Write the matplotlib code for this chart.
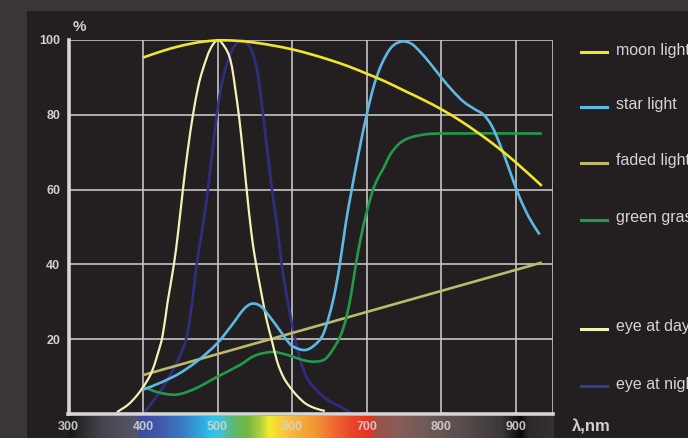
import numpy as np
import matplotlib
matplotlib.use("Agg")
import matplotlib.pyplot as plt
from matplotlib.colors import LinearSegmentedColormap
from matplotlib.lines import Line2D
from matplotlib.path import Path
from matplotlib.patches import PathPatch

# ---------------- data ----------------
moon_x = [400, 425, 450, 475, 500, 525, 550, 575, 600, 625, 650, 675, 700, 725, 750, 775, 800, 825, 850, 875, 900, 935]
moon_y = [95.3, 97.0, 98.4, 99.4, 99.9, 99.8, 99.3, 98.5, 97.5, 96.2, 94.7, 93.0, 91.0, 88.9, 86.5, 84.1, 81.5, 78.5, 75.1, 71.4, 67.3, 61.0]

star_x = [400, 425, 450, 475, 500, 520, 535, 546, 558, 570, 583, 592, 600, 617, 630, 642, 655, 664, 672, 680, 690, 700, 710, 720, 733, 747, 760, 772, 785, 800, 815, 830, 845, 857, 868, 880, 892, 905, 918, 932]
star_y = [6.5, 8.5, 11.0, 14.5, 19.0, 24.0, 28.0, 29.5, 28.8, 26.0, 22.5, 20.0, 18.2, 17.1, 18.4, 21.5, 30.4, 40.0, 51.0, 60.0, 70.5, 80.0, 88.0, 93.5, 98.0, 99.6, 99.0, 96.8, 93.8, 90.0, 86.5, 83.5, 81.5, 80.0, 77.0, 71.5, 65.0, 58.0, 52.5, 48.0]

faded_x = [400, 935]
faded_y = [10.4, 40.5]

grass_x = [400, 420, 445, 470, 500, 530, 550, 574, 590, 600, 615, 630, 645, 659.5, 667, 673, 680, 685.5, 692, 700, 708.6, 715, 722, 732, 745, 760, 780, 800, 935]
grass_y = [7.3, 5.8, 5.2, 6.8, 10.0, 13.1, 15.6, 16.6, 16.0, 15.4, 14.4, 14.0, 14.8, 18.8, 22.0, 26.0, 33.0, 40.0, 47.0, 54.0, 60.0, 63.0, 65.5, 69.5, 72.5, 74.0, 74.8, 75.0, 75.0]

day_x = [365, 380, 392, 400.3, 407, 412.8, 419, 426.3, 433, 441.4, 447, 453.5, 460, 467, 474, 480, 490, 500.5, 510, 516, 520, 524, 528.5, 534, 539, 545, 550, 560, 566, 572.4, 580, 588, 597, 607, 618, 630, 644]
day_y = [0.5, 2.5, 5.0, 7.3, 9.4, 11.8, 15.6, 21.0, 30.0, 40.0, 48.5, 60.0, 70.5, 80.0, 87.5, 92.0, 97.5, 100.0, 98.0, 95.5, 92.0, 86.5, 80.0, 70.0, 60.0, 49.0, 42.0, 31.0, 25.0, 20.0, 14.0, 10.0, 7.2, 4.8, 2.8, 1.6, 0.8]

night_x = [402, 412, 422, 431, 440, 447, 459, 466, 472, 480, 487, 493, 499, 505, 510, 520, 532.5, 545, 553, 557, 561, 567, 573, 580, 586, 596, 604, 611, 619, 632, 646, 664, 679]
night_y = [0.5, 3.0, 5.8, 8.5, 11.8, 14.4, 21.0, 30.0, 40.0, 50.0, 60.0, 70.0, 80.0, 87.5, 92.0, 97.5, 100.0, 97.5, 92.0, 86.5, 80.0, 70.0, 60.0, 50.0, 40.0, 28.0, 20.0, 14.5, 10.0, 6.5, 4.0, 2.0, 0.3]

legend_labels = ["moon light", "star light", "faded light", "green grass", "eye at day", "eye at night"]
x_ticks = [300, 400, 500, 600, 700, 800, 900]
y_ticks = [20, 40, 60, 80, 100]

# ---------------- style ----------------
W, H = 688, 438
BG_OUT = "#3a3637"
BG_IN = "#231f20"
GRID = "#c4c4c4"
TXT = "#cfcfcf"
colors = {
    "moon light": "#f2e32c",
    "star light": "#5cb9e4",
    "faded light": "#bdb96a",
    "green grass": "#1f9b4a",
    "eye at day": "#f4f0b6",
    "eye at night": "#312d84",
}
legend_colors = dict(colors)
legend_colors["eye at night"] = "#2d3f8f"

plt.rcParams['font.family'] = ['Liberation Sans', 'DejaVu Sans']

fig = plt.figure(figsize=(W / 100, H / 100), dpi=100)
fig.patch.set_facecolor(BG_OUT)

def fx(px):
    return px / W

def fy(py):
    return 1 - py / H

def smooth_curve(ax, xs, ys, **kw):
    """Draw a smooth cubic (Hermite/Bezier) curve through the given points."""
    x = np.asarray(xs, float)
    y = np.asarray(ys, float)
    n = len(x)
    m = np.empty(n)
    m[0] = (y[1] - y[0]) / (x[1] - x[0])
    m[-1] = (y[-1] - y[-2]) / (x[-1] - x[-2])
    m[1:-1] = (y[2:] - y[:-2]) / (x[2:] - x[:-2])
    verts = [(x[0], y[0])]
    codes = [Path.MOVETO]
    for i in range(n - 1):
        h = x[i + 1] - x[i]
        verts += [(x[i] + h / 3, y[i] + m[i] * h / 3),
                  (x[i + 1] - h / 3, y[i + 1] - m[i + 1] * h / 3),
                  (x[i + 1], y[i + 1])]
        codes += [Path.CURVE4] * 3
    patch = PathPatch(Path(verts, codes), fill=False, **kw)
    ax.add_patch(patch)

# inner dark panel
panel = fig.add_axes([fx(27), 0, 1 - fx(27), fy(11)])
panel.set_facecolor(BG_IN)
panel.set_axis_off()
panel.add_patch(plt.Rectangle((0, 0), 1, 1, transform=panel.transAxes, color=BG_IN, zorder=0))

# main axes
L, R, T, B = 68.5, 553, 40, 414
ax = fig.add_axes([fx(L), fy(B), fx(R) - fx(L), fy(T) - fy(B)])
ax.set_facecolor(BG_IN)
ax.set_xlim(300, 950)
ax.set_ylim(0, 100)

for v in [400, 500, 600, 700, 800, 900, 950]:
    ax.axvline(v, color=GRID, lw=1.2, zorder=1)
for v in y_ticks:
    ax.axhline(v, color=GRID, lw=1.2, zorder=1)

for s in ["top", "right"]:
    ax.spines[s].set_visible(False)
ax.spines["left"].set_color("#d6d6d6")
ax.spines["left"].set_linewidth(2.6)
ax.spines["bottom"].set_color("#d6d6d6")
ax.spines["bottom"].set_linewidth(2.6)
ax.spines["left"].set_zorder(7)
ax.spines["bottom"].set_zorder(7)

ax.set_xticks([])
ax.set_yticks(y_ticks)
ax.set_yticklabels([str(v) for v in y_ticks], fontsize=9, fontweight="bold", color=TXT)
ax.tick_params(axis="y", length=0, pad=6)

lw = 1.9
smooth_curve(ax, night_x, night_y, edgecolor=colors["eye at night"], lw=2.0, zorder=3, alpha=0.95, clip_on=False)
ax.plot(faded_x, faded_y, color=colors["faded light"], lw=lw, zorder=3, solid_capstyle="butt")
smooth_curve(ax, grass_x, grass_y, edgecolor=colors["green grass"], lw=lw, zorder=4, capstyle="butt")
smooth_curve(ax, day_x, day_y, edgecolor=colors["eye at day"], lw=1.6, zorder=4, clip_on=False)
smooth_curve(ax, star_x, star_y, edgecolor=colors["star light"], lw=lw, zorder=5, clip_on=False, capstyle="butt")
smooth_curve(ax, moon_x, moon_y, edgecolor=colors["moon light"], lw=lw, zorder=6, clip_on=False, capstyle="butt")

fig.text(fx(73), fy(27), "%", fontsize=11, fontweight="bold", color=TXT, va="center", ha="left")

# spectrum bar
spec_w = [300, 318, 345, 390, 396, 420, 450, 475, 492, 505, 520, 540, 558, 568, 580, 600, 630, 655, 680, 704, 712, 740, 780, 830, 880, 900, 906, 915, 950]
spec_c = ["#161414", "#2e2c30", "#45454f", "#55556a", "#3f4c9e", "#4158ab", "#3a78c4", "#30a4dc", "#2ec4f0", "#48c0c8", "#5cb870", "#74b840", "#b8d23c", "#f4ec2c", "#f8d43a", "#f8b640", "#f39434", "#ee6a30", "#e8442a", "#e43322", "#9c5048", "#8a5d58", "#6e5a58", "#564c4c", "#3c3838", "#1a1212", "#0c0808", "#2c2828", "#363232"]
cmap = LinearSegmentedColormap.from_list(
    "spec", [((w - 300) / 650, c) for w, c in zip(spec_w, spec_c)], N=1024)
sax = fig.add_axes([fx(L), 0, fx(R) - fx(L), fy(416)])
grad = np.linspace(0, 1, 1024)[None, :]
sax.imshow(grad, aspect="auto", cmap=cmap, extent=[300, 950, 0, 1], interpolation="bilinear")
sax.set_xlim(300, 950)
sax.set_ylim(0, 1)
sax.set_axis_off()
for t in x_ticks:
    sax.text(t, 0.5, str(t), ha="center", va="center", fontsize=9, fontweight="bold", color="#d4d4d4", alpha=0.9)

fig.text(fx(572), fy(427), "λ,nm", fontsize=12, fontweight="bold", color=TXT, va="center", ha="left")

# legend (manual, uneven spacing as in the reference)
leg_y = [52, 107, 163, 220, 329, 386]
for lab, py in zip(legend_labels, leg_y):
    fig.add_artist(Line2D([fx(581), fx(607)], [fy(py), fy(py)], color=legend_colors[lab], lw=2.2,
                          transform=fig.transFigure))
    fig.text(fx(616), fy(py - 2), lab, fontsize=11.5, color="#d4d4d4", va="center", ha="left")

fig.savefig("out.png", dpi=100, facecolor=fig.get_facecolor())
